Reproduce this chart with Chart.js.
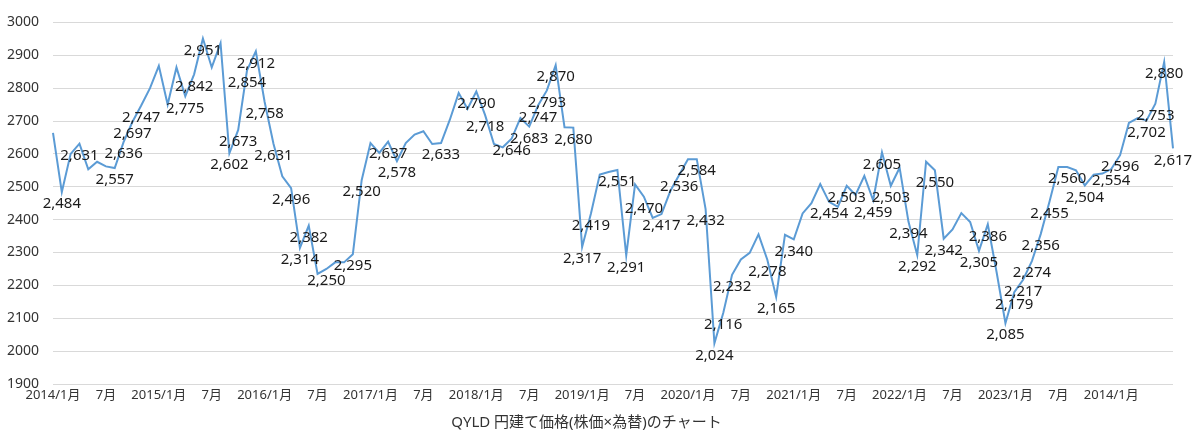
<!DOCTYPE html>
<html lang="ja">
<head>
<meta charset="utf-8">
<title>QYLD 円建て価格</title>
<script src="https://cdn.jsdelivr.net/npm/chart.js@4.4.1/dist/chart.umd.min.js"></script>
<style>
  html, body { margin: 0; padding: 0; background: #fff; }
  #wrap { width: 1200px; height: 436px; }
</style>
</head>
<body>
<div id="wrap"><canvas id="qyldChart" width="1200" height="436"></canvas></div>
<script>
// 月次の価格 (2014/1 〜 2024/8)
const prices = [
  2664, 2484, 2600, 2631, 2553, 2576, 2562, 2557, 2636, 2697, 2747, 2800,
  2868, 2750, 2863, 2775, 2842, 2951, 2863, 2937, 2602, 2673, 2854, 2912,
  2758, 2631, 2532, 2496, 2314, 2382, 2235, 2250, 2270, 2270, 2295, 2520,
  2633, 2603, 2637, 2578, 2633, 2659, 2669, 2630, 2633, 2704, 2785, 2737,
  2790, 2718, 2630, 2620, 2646, 2709, 2683, 2747, 2793, 2870, 2681, 2680,
  2317, 2419, 2537, 2545, 2551, 2291, 2507, 2470, 2405, 2417, 2487, 2536,
  2584, 2584, 2432, 2024, 2116, 2232, 2279, 2299, 2355, 2278, 2165, 2354,
  2340, 2419, 2450, 2508, 2454, 2439, 2503, 2475, 2533, 2459, 2605, 2503,
  2558, 2394, 2292, 2576, 2550, 2342, 2370, 2420, 2393, 2305, 2386, 2240,
  2085, 2179, 2217, 2274, 2356, 2455, 2560, 2560, 2550, 2504, 2537, 2540,
  2554, 2596, 2694, 2709, 2702, 2753, 2880, 2617
];

// 値ラベルを付けている点
const labeledPoints = [
  1, 3, 7, 8, 9, 10, 15, 16, 17, 20, 21, 22, 23, 24, 25, 27, 28, 29, 31, 34,
  35, 38, 39, 44, 48, 49, 52, 54, 55, 56, 57, 59, 60, 61, 64, 65, 67, 69, 71,
  73, 74, 75, 76, 77, 81, 82, 84, 88, 90, 93, 94, 95, 97, 98, 100, 101, 105,
  106, 108, 109, 110, 111, 112, 113, 115, 117, 120, 121, 124, 125, 126, 127
];

// 横軸の目盛 (半年ごと)
const tickLabels = [
  "2014/1月", "7月", "2015/1月", "7月", "2016/1月", "7月", "2017/1月", "7月",
  "2018/1月", "7月", "2019/1月", "7月", "2020/1月", "7月", "2021/1月", "7月",
  "2022/1月", "7月", "2023/1月", "7月", "2014/1月"
];

const months = [];
for (let i = 0; i < prices.length; i++) {
  const y = 2014 + Math.floor(i / 12);
  const m = (i % 12) + 1;
  months.push(y + "/" + m);
}

const FONT = "'Noto Sans', 'Noto Sans CJK JP', sans-serif";

const pointLabels = {
  id: "pointLabels",
  afterDatasetsDraw(chart) {
    const ctx = chart.ctx;
    const meta = chart.getDatasetMeta(0);
    ctx.save();
    ctx.font = "15px " + FONT;
    ctx.fillStyle = "#1a1a1a";
    ctx.textAlign = "center";
    ctx.textBaseline = "middle";
    labeledPoints.forEach((i) => {
      const pt = meta.data[i];
      if (!pt) return;
      ctx.fillText(prices[i].toLocaleString("en-US"), pt.x, pt.y + 12);
    });
    ctx.restore();
  },
};

new Chart(document.getElementById("qyldChart"), {
  type: "line",
  data: {
    labels: months,
    datasets: [
      {
        label: "QYLD",
        data: prices,
        borderColor: "#5b9bd5",
        borderWidth: 2,
        pointRadius: 0,
        tension: 0,
        fill: false,
      },
    ],
  },
  options: {
    responsive: false,
    animation: false,
    layout: { padding: { top: 20, right: 27, left: 0, bottom: 0 } },
    plugins: {
      legend: { display: false },
      tooltip: { enabled: false },
      title: {
        display: true,
        position: "bottom",
        text: "QYLD 円建て価格(株価×為替)のチャート",
        color: "#333",
        font: { family: FONT, size: 15, weight: "normal" },
        padding: { top: 8, bottom: 4 },
      },
    },
    scales: {
      x: {
        offset: false,
        grid: { display: false, drawTicks: false },
        border: { display: false },
        afterFit: (scale) => { scale.height = 22; },
        ticks: {
          autoSkip: false,
          maxRotation: 0,
          minRotation: 0,
          padding: 3,
          color: "#333",
          font: { family: FONT, size: 13 },
          callback: (value, index) =>
            index % 6 === 0 && index / 6 < tickLabels.length ? tickLabels[index / 6] : "",
        },
      },
      y: {
        min: 1900,
        max: 3000,
        grid: { color: "#d9d9d9", lineWidth: 1, drawTicks: false },
        border: { display: false },
        afterFit: (scale) => { scale.width = 53; },
        ticks: {
          stepSize: 100,
          padding: 14,
          color: "#333",
          font: { family: FONT, size: 14 },
          callback: (value) => String(value),
        },
      },
    },
  },
  plugins: [pointLabels],
});
</script>
</body>
</html>
